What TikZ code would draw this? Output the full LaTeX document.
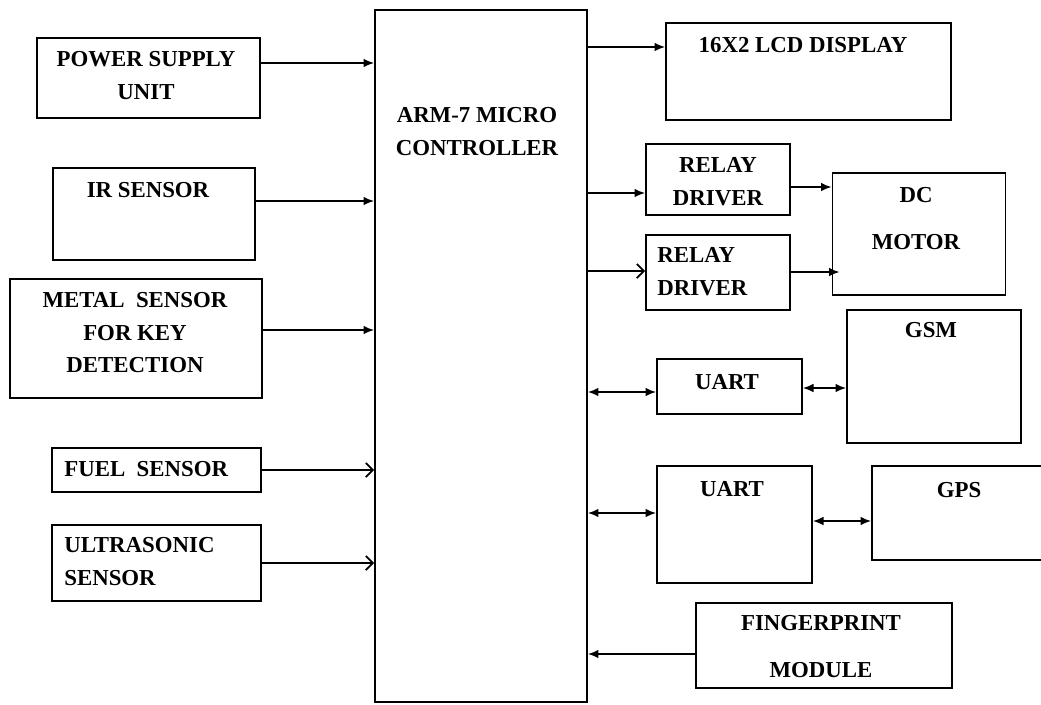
\documentclass[tikz,border=0pt]{standalone}
\usepackage{fontspec}
\setmainfont{Liberation Serif}
\usetikzlibrary{arrows.meta}
\tikzset{
  blk/.style={draw, line width=1.1pt, inner sep=0pt},
  txt/.style={font=\fontsize{13}{18.5}\selectfont\bfseries, inner sep=0pt, align=center},
  arr/.style={line width=1pt, -{Latex[length=6pt,width=5pt]}},
  oarr/.style={line width=1pt, -{Straight Barb[length=4pt,width=8pt]}},
  barr/.style={line width=1pt, {Latex[length=6pt,width=5pt]}-{Latex[length=6pt,width=5pt]}}
}
\begin{document}
\begin{tikzpicture}[x=0.02cm, y=-0.02cm]
    \clip (0,0) rectangle (1041,704);
    %% inputs on the left
    \node[blk, minimum width=4.46cm, minimum height=1.6cm] (ps) at (148.5,78) {};
    \node[blk, minimum width=4.04cm, minimum height=1.84cm] (ir) at (154,214) {};
    \node[blk, minimum width=5.04cm, minimum height=2.38cm] (metal) at (136,338.5) {};
    \node[blk, minimum width=4.18cm, minimum height=0.88cm] (fuel) at (156.5,470) {};
    \node[blk, minimum width=4.18cm, minimum height=1.52cm] (ultra) at (156.5,563) {};
    \node[txt] (pst) at (146,75.5) {POWER SUPPLY\\UNIT};
    \node[txt] (irt) at (148,190) {IR SENSOR};
    \node[txt] (metalt) at (135,333) {METAL\ \ SENSOR\\FOR KEY\\DETECTION};
    \node[txt, anchor=west] (fuelt) at (64,469) {FUEL\ \ SENSOR};
    \node[txt, anchor=west, align=left] (ultrat) at (64,561.5) {ULTRASONIC\\SENSOR};
    %% controller
    \node[blk, minimum width=4.24cm, minimum height=13.84cm] (arm) at (481,356) {};
    \node[txt] (armt) at (477,131.5) {ARM-7 MICRO\\CONTROLLER};
    %% outputs on the right
    \node[blk, minimum width=5.7cm, minimum height=1.94cm] (lcd) at (808.5,71.5) {};
    \node[blk, minimum width=2.88cm, minimum height=1.42cm] (rd1) at (718,179.5) {};
    \node[blk, minimum width=2.88cm, minimum height=1.5cm] (rd2) at (718,272.5) {};
    \node[blk, minimum width=3.46cm, minimum height=2.44cm] (dc) at (919,234) {};
    \node[blk, minimum width=3.48cm, minimum height=2.66cm] (gsm) at (934,376.5) {};
    \node[blk, minimum width=2.9cm, minimum height=1.1cm] (ua1) at (729.5,386.5) {};
    \node[blk, minimum width=3.1cm, minimum height=2.34cm] (ua2) at (734.5,524.5) {};
    \node[blk, minimum width=3.6cm, minimum height=1.88cm] (gps) at (962,513) {};
    \node[blk, minimum width=5.12cm, minimum height=1.7cm] (fp) at (824,645.5) {};
    \node[txt] (lcdt) at (803,45) {16X2 LCD DISPLAY};
    \node[txt] (rd1t) at (718,181.5) {RELAY\\DRIVER};
    \node[txt, anchor=west, align=left] (rd2t) at (657,271.5) {RELAY\\DRIVER};
    \node[txt] (dct) at (916,218.5) {DC\\[0.29cm]MOTOR};
    \node[txt] (gsmt) at (931,330) {GSM};
    \node[txt] (ua1t) at (727,382) {UART};
    \node[txt] (ua2t) at (732,489) {UART};
    \node[txt] (gpst) at (959,490) {GPS};
    \node[txt] (fpt) at (821,646.5) {FINGERPRINT\\[0.29cm]MODULE};
    %% connectors
    \draw[arr] (ps.east |- 0,63) -- (arm.west |- 0,63);
    \draw[arr] (ir.east |- 0,201) -- (arm.west |- 0,201);
    \draw[arr] (metal.east |- 0,330) -- (arm.west |- 0,330);
    \draw[oarr] (fuel.east) -- (fuel.east -| arm.west);
    \draw[oarr] (ultra.east) -- (ultra.east -| arm.west);
    \draw[arr] (arm.east |- 0,47) -- (lcd.west |- 0,47);
    \draw[arr] (arm.east |- 0,193) -- (rd1.west |- 0,193);
    \draw[oarr] (arm.east |- 0,271) -- (rd2.west |- 0,271);
    \draw[arr] (rd1.east |- 0,187) -- (dc.west |- 0,187);
    \draw[arr] (rd2.east |- 0,272) -- ([xshift=0.16cm]dc.west |- 0,272);
    \draw[barr] (arm.east |- 0,392) -- (ua1.west |- 0,392);
    \draw[barr] (ua1.east |- 0,388) -- (gsm.west |- 0,388);
    \draw[barr] (arm.east |- 0,513) -- (ua2.west |- 0,513);
    \draw[barr] (ua2.east |- 0,521) -- (gps.west |- 0,521);
    \draw[arr] (fp.west |- 0,654) -- (arm.east |- 0,654);
\end{tikzpicture}
\end{document}
